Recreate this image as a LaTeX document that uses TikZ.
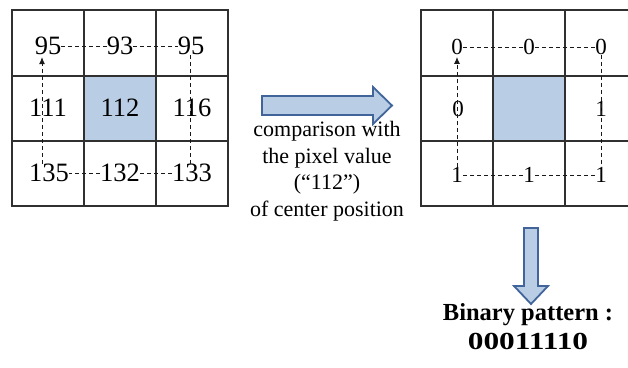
\documentclass[tikz,border=0pt]{standalone}
\usepackage{fontspec}
\setmainfont{Liberation Serif}
\usetikzlibrary{arrows.meta,positioning,calc}
\definecolor{cellblue}{HTML}{B9CDE5}
\definecolor{arrowblue}{HTML}{41659A}
\definecolor{gridgray}{HTML}{303030}
\tikzset{
  gridline/.style={draw=gridgray,line width=1.4pt,line cap=rect},
  pixnum/.style={font=\fontsize{26.5}{30}\selectfont,inner sep=0pt},
  bitnum/.style={font=\fontsize{23}{27}\selectfont,inner sep=0pt},
  looppath/.style={dash pattern=on 4pt off 3pt,line width=0.9pt,black!90},
  looptip/.style={looppath,-{Latex[length=7pt,width=6pt]},shorten >=2pt},
  blockarrow/.style={draw=arrowblue,line width=1.8pt,fill=cellblue,line join=miter},
  caption/.style={font=\fontsize{22}{26.5}\selectfont,align=center,inner sep=0pt},
  result/.style={font=\bfseries\fontsize{24.5}{29}\selectfont,align=center,inner sep=0pt}
}

\begin{document}
\begin{tikzpicture}[x=1pt,y=-1pt]
  \useasboundingbox (0,0) rectangle (628,367);
  % input neighbourhood
  \fill[cellblue] (84,76) rectangle (156,141);
  \foreach \x in {12,84,156,228} \draw[gridline] (\x,10) -- (\x,206);
  \foreach \y in {10,76,141,206} \draw[gridline] (12,\y) -- (228,\y);
  \node[pixnum] (l11) at (48,46) {95};
  \node[pixnum] (l12) at (120,46) {93};
  \node[pixnum] (l13) at (191,46) {95};
  \node[pixnum] (l21) at (48,108) {111};
  \node[pixnum] (l22) at (120,108) {112};
  \node[pixnum] (l23) at (192,108) {116};
  \node[pixnum] (l31) at (49,173) {135};
  \node[pixnum] (l32) at (120,173) {132};
  \node[pixnum] (l33) at (192,173) {133};
  \draw[looppath] (l11.east) -- (l12.west);
  \draw[looppath] (l12.east) -- (l13.west);
  \draw[looppath] ([xshift=-1pt]l13.south) -- ([xshift=-2pt]l33.north);
  \draw[looppath] (l33.west) -- (l32.east);
  \draw[looppath] (l32.west) -- (l31.east);
  \draw[looptip] ([xshift=-7pt]l31.north) -- ([xshift=-6pt]l11.south);
  % thresholded neighbourhood
  \fill[cellblue] (493,76) rectangle (565,141);
  \foreach \x in {421,493,565,637} \draw[gridline] (\x,10) -- (\x,206);
  \foreach \y in {10,76,141,206} \draw[gridline] (421,\y) -- (637,\y);
  \node[bitnum] (r11) at (457,47) {0};
  \node[bitnum] (r12) at (529,47) {0};
  \node[bitnum] (r13) at (601,47) {0};
  \node[bitnum] (r21) at (458,109) {0};
  \node[bitnum] (r23) at (601,109) {1};
  \node[bitnum] (r31) at (457,175) {1};
  \node[bitnum] (r32) at (529,175) {1};
  \node[bitnum] (r33) at (601,175) {1};
  \draw[looppath] (r11.east) -- (r12.west);
  \draw[looppath] (r12.east) -- (r13.west);
  \draw[looppath] (r13.south) -- (r33.north);
  \draw[looppath] (r33.west) -- (r32.east);
  \draw[looppath] (r32.west) -- (r31.east);
  \draw[looptip] (r31.north) -- (r11.south);
  % block arrows
  \draw[blockarrow] (262,96) -- (373,96) -- (373,87) -- (392,105.5) -- (373,124)
    -- (373,115) -- (262,115) -- cycle;
  \draw[blockarrow] (524,228) -- (538,228) -- (538,286) -- (548,286) -- (531,304)
    -- (514,286) -- (524,286) -- cycle;
  \node[caption] (cmp) at (327,171) {comparison with\\the pixel value\\(``112'')\\of center position};
  \node[result] (bin) at (528,327) {Binary pattern :\\\scalebox{1.28}[1]{00011110}};
\end{tikzpicture}
\end{document}
